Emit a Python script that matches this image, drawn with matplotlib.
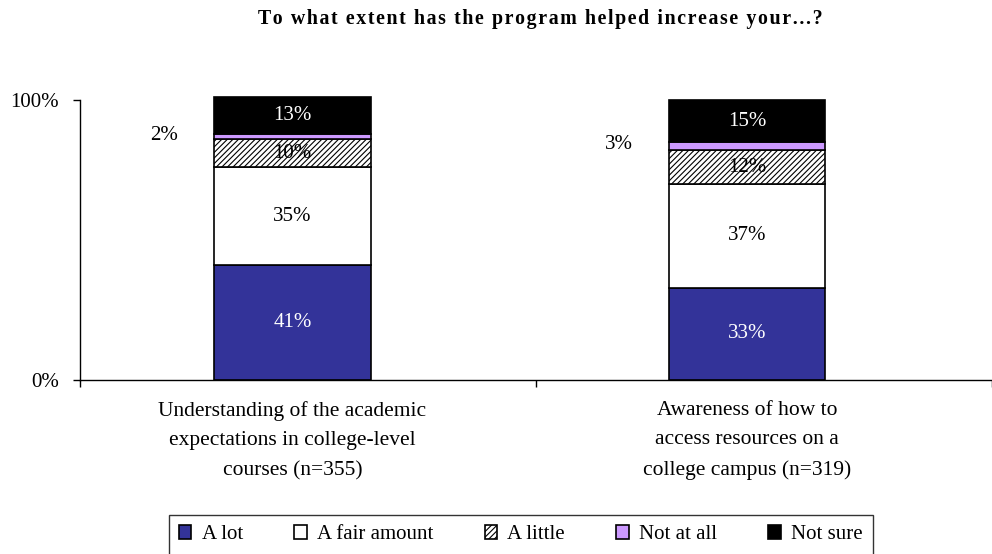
"""Stacked bar chart of how much the program helped, by outcome."""

import matplotlib
matplotlib.use('Agg')
import matplotlib.pyplot as plt
import numpy as np

plt.rcParams['font.family'] = ['Liberation Serif', 'DejaVu Serif']
plt.rcParams['hatch.color'] = '#707070'
plt.rcParams['hatch.linewidth'] = 0.8

categories = ['Understanding of the academic\nexpectations in college-level\ncourses (n=355)',
              'Awareness of how to\naccess resources on a\ncollege campus (n=319)']
responses = ['A lot', 'A fair amount', 'A little', 'Not at all', 'Not sure']
a_lot = [41, 33]
fair_amount = [35, 37]
a_little = [10, 12]
not_at_all = [2, 3]
not_sure = [13, 15]
title = 'To what extent has the program helped increase your...?'

series = [a_lot, fair_amount, a_little, not_at_all, not_sure]
colors = ['#333399', 'white', 'white', '#CC99FF', 'black']
hatches = [None, None, '//////', None, None]
text_colors = ['white', 'black', 'black', 'black', 'white']

fig = plt.figure(figsize=(9.92, 5.54), dpi=100)
ax = fig.add_axes([80 / 992, 174 / 554, 912 / 992, 280 / 554])

x = np.array([-0.034, 0.963])
width = 0.343
bottom = np.zeros(len(categories))
for name, vals, col, hat, tcol in zip(responses, series, colors, hatches, text_colors):
    vals = np.array(vals)
    ax.bar(x, vals, width, bottom=bottom, color=col, edgecolor='black',
           linewidth=1.2, hatch=hat, label=name, clip_on=False)
    for xi, b, v in zip(x, bottom, vals):
        if name == 'Not at all':
            # too thin to hold its label, so write it off to the left
            ax.text(xi - width / 2 - 0.11, b + v / 2 + 0.5, f'{v}%', ha='center',
                    va='center', fontsize=15, color='black')
        else:
            ax.text(xi, b + v / 2, f'{v}%', ha='center', va='center',
                    fontsize=15, color=tcol)
    bottom += vals

ax.set_xlim(-0.5, 1.478)
ax.set_ylim(0, 100)
ax.set_yticks([0, 100])
ax.set_yticklabels(['0%', '100%'], fontsize=15)
ax.set_xticks([-0.5, 0.5, 1.5])
ax.set_xticklabels([])
ax.set_xticks(x, minor=True)
ax.set_xticklabels(categories, minor=True, fontsize=15.5, linespacing=1.76)
ax.tick_params(axis='x', which='minor', length=0, pad=15)
ax.tick_params(axis='both', which='major', length=5, width=1, direction='out')
ax.tick_params(axis='y', pad=10)
for side in ['top', 'right']:
    ax.spines[side].set_visible(False)
for side in ['left', 'bottom']:
    ax.spines[side].set_linewidth(1)

# the title is set with loose letter spacing
fig.text(0.545, 0.965, '\u200a'.join(title), ha='center', va='center',
         fontsize=14.3, fontweight='bold')

leg = fig.legend(loc='upper center', bbox_to_anchor=(0.525, 39 / 554), ncol=5,
                 frameon=True, fancybox=False, edgecolor='black', fontsize=15,
                 handlelength=0.6, handleheight=0.6, handletextpad=0.5,
                 columnspacing=2.45, borderpad=0.5, borderaxespad=0)
leg.get_frame().set_linewidth(1)

fig.savefig('out.png', dpi=100)
